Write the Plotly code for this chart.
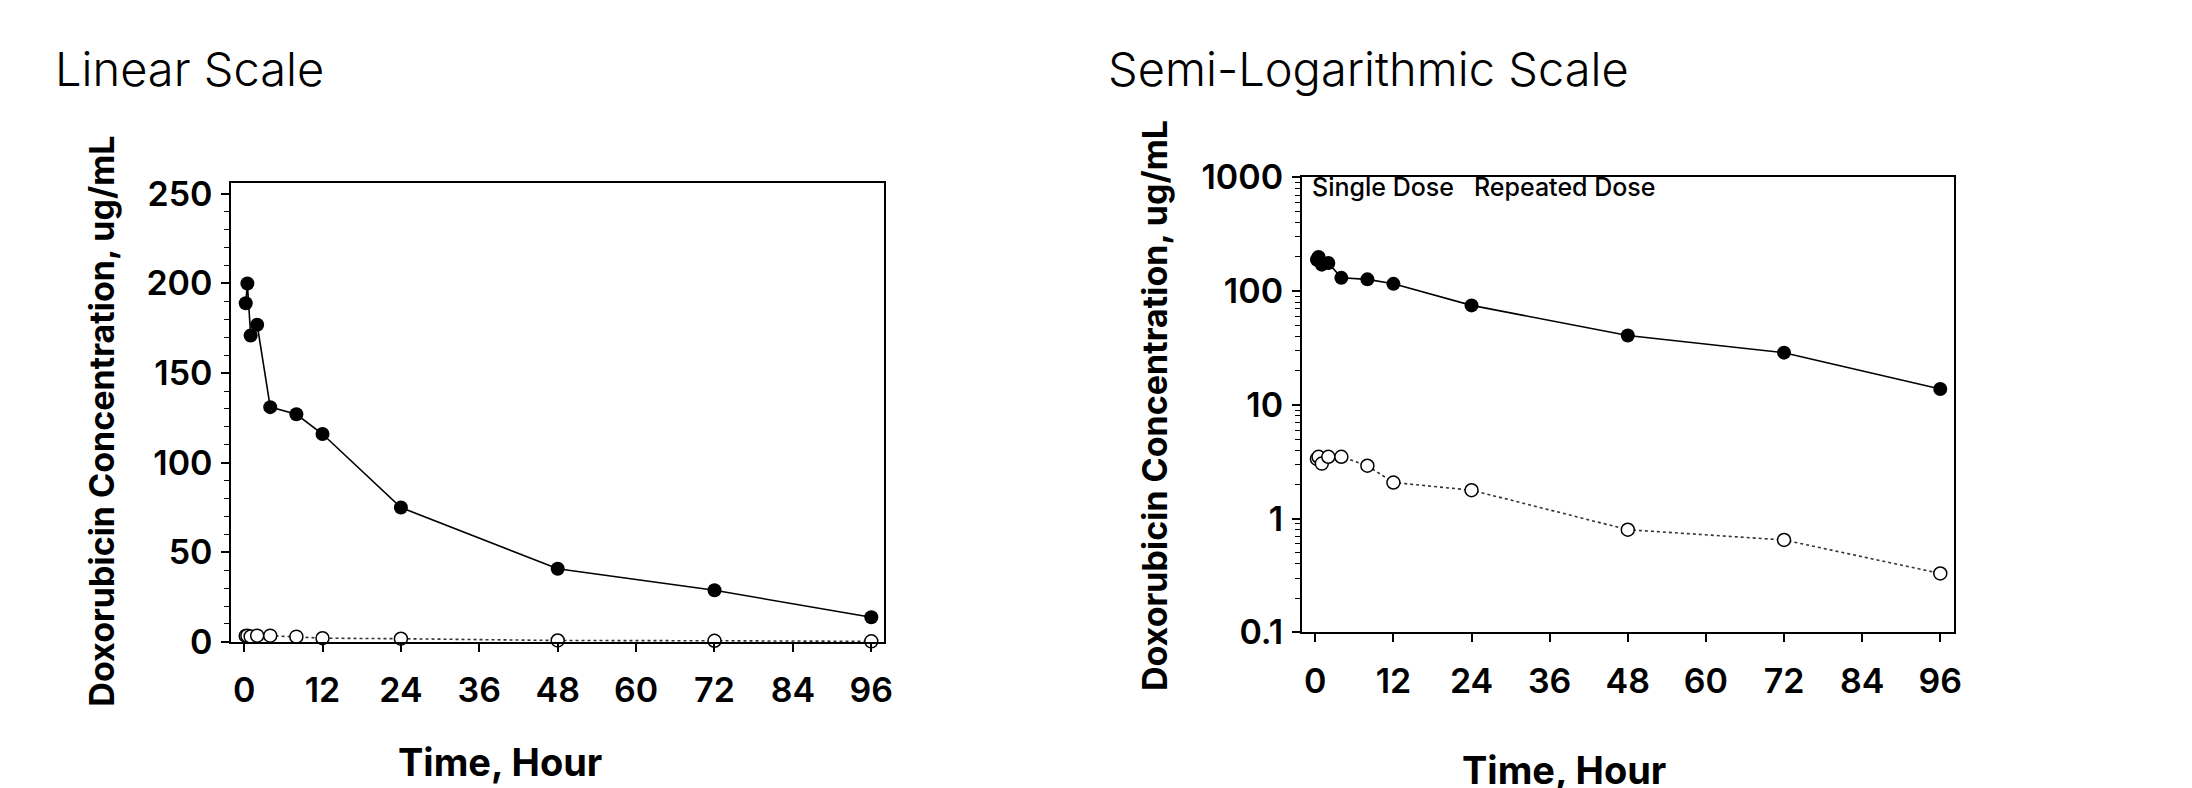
import plotly.graph_objects as go

W, H = 2192, 788

def px(x):
    return x / W

def py(y):
    return 1 - y / H

# ---------------- data ----------------
time_h = [0.25, 0.5, 1, 2, 4, 8, 12, 24, 48, 72, 96]
repeated_dose = [189, 200, 171, 177, 131, 127, 116, 75, 40.8, 28.8, 13.8]
single_dose = [3.35, 3.5, 3.05, 3.5, 3.5, 2.92, 2.08, 1.78, 0.8, 0.65, 0.33]

x_ticks = [0, 12, 24, 36, 48, 60, 72, 84, 96]
lin_ticks = [0, 50, 100, 150, 200, 250]
log_ticks = [0.1, 1, 10, 100, 1000]
log_tick_text = ["0.1", "1", "10", "100", "1000"]

panel_titles = ["Linear Scale", "Semi-Logarithmic Scale"]
y_title = "Doxorubicin Concentration, ug/mL"
x_title = "Time, Hour"
series_labels = ["Single Dose", "Repeated Dose"]

FONT = "Inter"
fig = go.Figure()

for xa, ya in (("x", "y"), ("x2", "y2")):
    fig.add_trace(go.Scatter(
        x=time_h, y=single_dose, mode="lines+markers", name=series_labels[0],
        line=dict(color="#333333", width=1.6, dash="dot"),
        marker=dict(symbol="circle", size=13, color="white",
                    line=dict(color="black", width=1.5)),
        cliponaxis=False, showlegend=False, xaxis=xa, yaxis=ya))
    fig.add_trace(go.Scatter(
        x=time_h, y=repeated_dose, mode="lines+markers", name=series_labels[1],
        line=dict(color="black", width=1.6),
        marker=dict(symbol="circle", size=14, color="black"),
        cliponaxis=False, showlegend=False, xaxis=xa, yaxis=ya))

tickfont = dict(family=FONT, size=34, color="black", weight=600)
common_x = dict(
    tickmode="array", tickvals=x_ticks, ticks="outside", ticklen=8, tickwidth=1.5,
    tickcolor="black", showline=True, linewidth=1.5, linecolor="black", mirror=True,
    showgrid=False, zeroline=False, tickfont=tickfont, ticklabelstandoff=10)
common_y = dict(
    ticks="outside", ticklen=8, tickwidth=1.5, tickcolor="black", showline=True,
    linewidth=1.5, linecolor="black", mirror=True, showgrid=False, zeroline=False,
    tickfont=tickfont, ticklabelstandoff=2)

fig.update_layout(
    width=W, height=H, margin=dict(l=0, r=0, t=0, b=0), autosize=False,
    paper_bgcolor="white", plot_bgcolor="white", showlegend=False,
    xaxis=dict(domain=[px(232), px(888)], range=[-2.0, 98.0], anchor="y", **common_x),
    yaxis=dict(domain=[py(655), py(171)], range=[0, 256], anchor="x",
               tickmode="array", tickvals=lin_ticks,
               minor=dict(dtick=10, tick0=0, ticks="outside", ticklen=5, tickwidth=1.2,
                          tickcolor="black", showgrid=False),
               **common_y),
    xaxis2=dict(domain=[px(1307), px(1962)], range=[-2.1, 98.1], anchor="y2", **common_x),
    yaxis2=dict(domain=[py(645), py(165)], type="log", range=[-1, 3], anchor="x2",
                tickmode="array", tickvals=log_ticks, ticktext=log_tick_text,
                minor=dict(dtick="D1", ticks="outside", ticklen=5, tickwidth=1.2,
                           tickcolor="black", showgrid=False),
                **common_y),
)

ann = []
# panel titles
ann.append(dict(text=panel_titles[0], x=px(53), y=py(50), xref="paper", yref="paper",
                xanchor="left", yanchor="middle", showarrow=False,
                font=dict(family=FONT, size=47, color="black", weight=300)))
ann.append(dict(text=panel_titles[1], x=px(1111), y=py(50), xref="paper", yref="paper",
                xanchor="left", yanchor="middle", showarrow=False,
                font=dict(family=FONT, size=47, color="black", weight=300)))
# axis titles
for cx, cy in ((101, 422), (1160, 406)):
    ann.append(dict(text=y_title, x=px(cx), y=py(cy), xref="paper", yref="paper",
                    xanchor="center", yanchor="middle", textangle=-90, showarrow=False,
                    font=dict(family=FONT, size=34, color="black", weight=700)))
for cx, cy in ((502, 782), (1570, 790)):
    ann.append(dict(text=x_title, x=px(cx), y=py(cy), xref="paper", yref="paper",
                    xanchor="center", yanchor="middle", showarrow=False,
                    font=dict(family=FONT, size=38, color="black", weight=700)))
# series labels inside log panel
ann.append(dict(text=series_labels[0], x=px(1315), y=py(175), xref="paper", yref="paper",
                xanchor="left", yanchor="middle", showarrow=False,
                font=dict(family=FONT, size=25, color="black", weight=500)))
ann.append(dict(text=series_labels[1], x=px(1478), y=py(175), xref="paper", yref="paper",
                xanchor="left", yanchor="middle", showarrow=False,
                font=dict(family=FONT, size=25, color="black", weight=500)))
fig.update_layout(annotations=ann)

fig.write_html("out.html")
